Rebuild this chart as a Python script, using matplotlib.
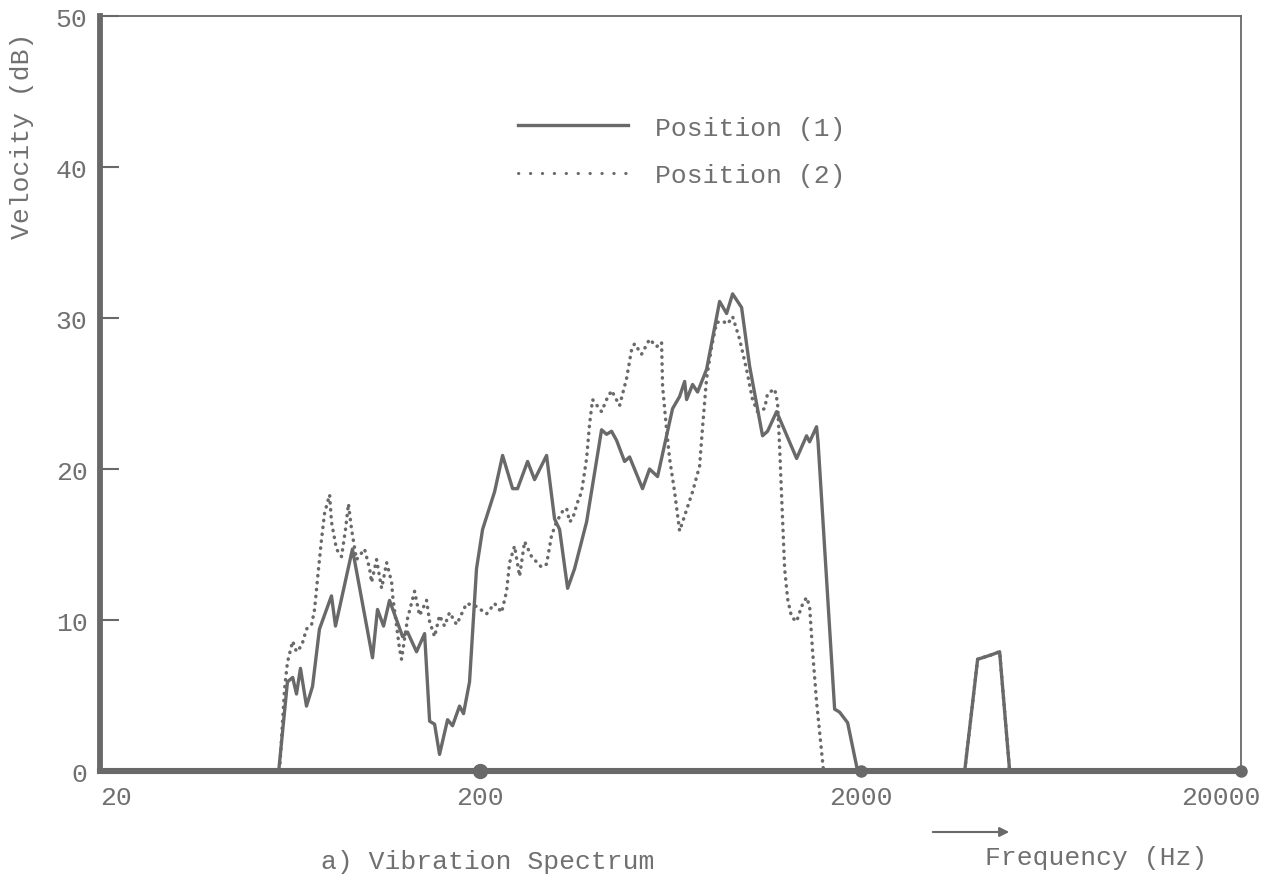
import matplotlib.pyplot as plt
from matplotlib.patches import FancyArrowPatch
from matplotlib.ticker import NullLocator
from matplotlib.transforms import ScaledTranslation

# Position (1): solid trace
freq_pos1 = [20, 59.0, 62.2, 64.2, 65.7, 67.3, 69.8, 72.4, 75.5, 81.2, 83.2, 92.2,
             104.1, 107.3, 111.3, 115.4, 124.9, 128.7, 135.9, 142.7, 147.1, 151.6,
             156.2, 164.0, 169.0, 176.3, 180.6, 187.3, 195.4, 202.7, 218.0, 228.8,
             243.1, 250.5, 266.2, 277.7, 298.6, 313.4, 323.1, 339.2, 353.8, 380.5,
             416.6, 429.4, 442.6, 456.2, 478.9, 493.6, 533.9, 557.1, 584.7, 640.3,
             668.2, 688.8, 697.2, 722.8, 745.0, 786.8, 851.3, 888.2, 920.9, 972.4,
             1021, 1104, 1138, 1202, 1357, 1441, 1468, 1531, 1545, 1708, 1760, 1848,
             1963, 3754, 4060, 4418, 4638, 4928, 20000]
vel_pos1 = [0, 0, 5.9, 6.2, 5.1, 6.8, 4.3, 5.6, 9.4, 11.6, 9.6, 14.7,
            7.5, 10.7, 9.6, 11.3, 8.9, 9.2, 7.9, 9.1, 3.3, 3.1,
            1.1, 3.4, 3.0, 4.3, 3.8, 5.9, 13.4, 16.0, 18.5, 20.9,
            18.7, 18.7, 20.5, 19.3, 20.9, 16.7, 16.0, 12.1, 13.4, 16.5,
            22.6, 22.3, 22.5, 21.9, 20.5, 20.8, 18.7, 20.0, 19.5, 24.0,
            24.8, 25.8, 24.6, 25.6, 25.1, 26.6, 31.1, 30.3, 31.6, 30.7,
            26.8, 22.2, 22.5, 23.8, 20.7, 22.2, 21.8, 22.8, 21.8, 4.1, 3.9, 3.2,
            0, 0, 7.4, 7.7, 7.9, 0, 0]

# Position (2): dotted trace
freq_pos2 = [20, 59.3, 61.1, 62.2, 64.2, 65.7, 67.8, 69.8, 72.0, 73.3, 74.6, 76.5,
             77.9, 80.3, 81.2, 83.7, 86.3, 88.4, 90.0, 91.7, 94.5, 99.2, 102.3,
             103.5, 106.7, 110.0, 113.4, 116.9, 117.6, 122.6, 124.1, 128.7, 134.3,
             138.4, 144.4, 147.1, 151.6, 156.2, 161.0, 166.0, 173.2, 184.0, 195.4,
             207.6, 218.0, 227.4, 234.4, 238.7, 246.0, 253.6, 261.4, 272.7, 289.6,
             298.6, 307.8, 317.2, 329.0, 337.1, 343.3, 349.5, 360.3, 369.2, 380.5,
             387.5, 394.5, 416.6, 429.4, 442.6, 464.6, 484.7, 499.6, 508.7, 530.7,
             557.1, 581.2, 599.1, 602.7, 617.5, 628.8, 648.1, 668.2, 688.8, 722.8,
             754.2, 768.0, 786.8, 811.0, 836.0, 867.0, 893.4, 920.9, 960.8, 1002,
             1039, 1071, 1118, 1138, 1188, 1209, 1224, 1239, 1262, 1285, 1316,
             1357, 1398, 1441, 1468, 1495, 1531, 1578, 1597, 3754, 4060, 4418,
             4638, 4928, 20000]
vel_pos2 = [0, 0, 5.4, 7.2, 8.6, 7.9, 8.3, 9.4, 9.7, 10.7, 12.7, 15.4,
            17.1, 18.3, 16.5, 14.7, 14.2, 16.0, 17.7, 16.0, 14.0, 14.7, 13.4,
            12.5, 14.0, 12.1, 13.8, 12.5, 11.6, 8.1, 7.4, 10.1, 11.9,
            10.3, 11.3, 9.9, 8.9, 10.3, 9.6, 10.5, 9.7, 11.1, 10.9,
            10.4, 11.1, 10.5, 11.9, 13.8, 14.9, 12.9, 15.2, 14.2, 13.5,
            13.7, 15.6, 16.5, 17.2, 17.4, 16.5, 16.7, 17.8, 18.5, 20.7,
            23.0, 24.6, 23.8, 24.6, 25.2, 24.2, 26.0, 27.9, 28.3, 27.6,
            28.6, 28.1, 28.4, 25.5, 22.6, 20.7, 18.5, 15.9, 16.9, 18.5,
            20.2, 22.8, 26.0, 28.1, 29.7, 29.8, 29.6, 30.1, 28.6, 26.6,
            24.6, 23.8, 24.0, 25.0, 25.3, 24.4, 21.5, 18.2, 13.4, 11.4, 10.2,
            9.9, 10.9, 11.5, 10.9, 7.9, 4.6, 1.3, 0, 0, 7.4, 7.7,
            7.9, 0, 0]

y_ticks = [0, 10, 20, 30, 40, 50]
x_ticks = [20, 200, 2000, 20000]
x_tick_labels = ['20', '200', '2000', '20000']
dot_freqs = [200, 2000, 20000]

GRAY = '#696969'
TEXT = '#707070'
FS = 19
plt.rcParams['font.family'] = ['Liberation Mono', 'DejaVu Sans Mono']

fig = plt.figure(figsize=(12.63, 8.78), dpi=100)
ax = fig.add_axes([0.0792, 0.1207, 0.9034, 0.8599])

ax.plot(freq_pos1, vel_pos1, color=GRAY, lw=2.4, solid_joinstyle='round',
        label='Position (1)', clip_on=False)
ax.plot(freq_pos2, vel_pos2, color=GRAY, lw=2.5, linestyle=(0, (0.1, 1.9)),
        dash_capstyle='round', label='Position (2)', clip_on=False)

ax.plot(dot_freqs[:1], [0], 'o', ms=10, color=GRAY, clip_on=False, zorder=5)
ax.plot(dot_freqs[1:], [0, 0], 'o', ms=8, color=GRAY, clip_on=False, zorder=5)

ax.set_xscale('log')
ax.set_xlim(20, 20000)
ax.set_ylim(0, 50)
ax.xaxis.set_minor_locator(NullLocator())
ax.set_xticks(x_ticks)
ax.set_xticklabels(x_tick_labels)
ax.set_yticks(y_ticks)
ax.set_yticklabels([str(t) for t in y_ticks])
ax.tick_params(axis='x', length=0, pad=10, labelsize=FS, labelcolor=TEXT)
ax.tick_params(axis='y', direction='in', length=14, width=1.5, color=GRAY,
               pad=9, labelsize=FS, labelcolor=TEXT)
xlabels = ax.get_xticklabels()
xlabels[0].set_ha('left')
xlabels[-1].set_transform(xlabels[-1].get_transform()
                          + ScaledTranslation(-0.2, 0, fig.dpi_scale_trans))

for side, lw in [('left', 4.2), ('bottom', 4.4), ('top', 1.3), ('right', 1.3)]:
    ax.spines[side].set_linewidth(lw)
    ax.spines[side].set_color(GRAY)

leg = ax.legend(loc='upper left', bbox_to_anchor=(0.366, 0.868), frameon=False,
                fontsize=FS, handlelength=4.2, handletextpad=1.0, labelspacing=0.9,
                borderpad=0, borderaxespad=0)
for t in leg.get_texts():
    t.set_color(TEXT)
leg.get_lines()[1].set_linestyle((0, (0.1, 3.8)))
leg.get_lines()[1].set_linewidth(2.2)

fig.text(22 / 1263, 1 - 136 / 878, 'Velocity (dB)', rotation=90, ha='center',
         va='center', fontsize=FS, color=TEXT)
fig.text(488 / 1263, 1 - 862 / 878, 'a) Vibration Spectrum', ha='center',
         va='center', fontsize=FS, color=TEXT)
fig.text(1096 / 1263, 1 - 858 / 878, 'Frequency (Hz)', ha='center',
         va='center', fontsize=FS, color=TEXT)
fig.add_artist(FancyArrowPatch(
    (930 / 1263, 1 - 833 / 878), (1012 / 1263, 1 - 833 / 878),
    transform=fig.transFigure, arrowstyle='-|>', mutation_scale=14,
    color=GRAY, lw=1.5))

fig.savefig('out.png', dpi=100, facecolor='white')
